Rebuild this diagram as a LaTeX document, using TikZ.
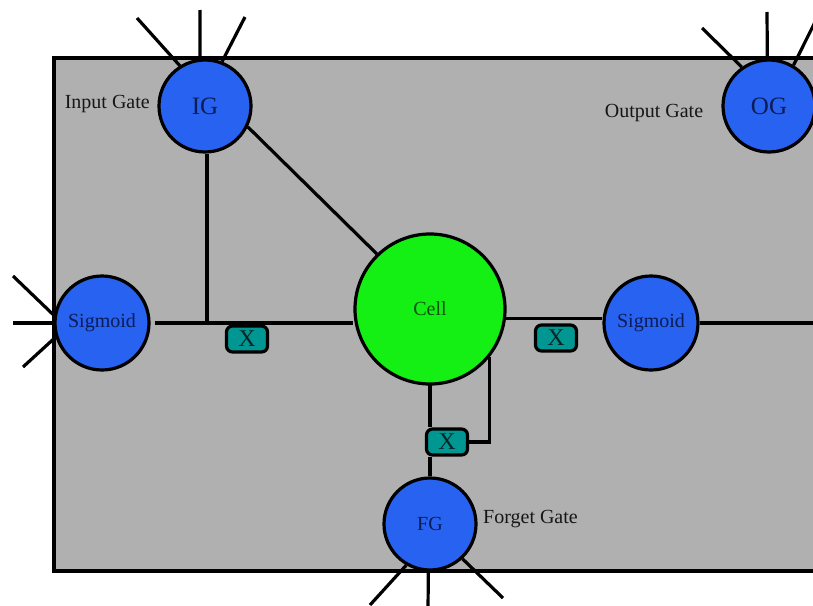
\documentclass[tikz,border=0pt]{standalone}
\usepackage{fontspec}
\setmainfont{Liberation Serif}
\definecolor{gateblue}{RGB}{40,98,240}
\definecolor{cellgreen}{RGB}{20,240,20}
\definecolor{multteal}{RGB}{0,150,145}
\definecolor{boxgray}{RGB}{176,176,176}
\definecolor{gatetext}{RGB}{12,28,85}
\definecolor{celltext}{RGB}{15,80,15}
\definecolor{multtext}{RGB}{8,38,38}
\definecolor{labeltext}{RGB}{22,22,22}
\begin{document}
\begin{tikzpicture}[x=1pt,y=-1pt,
  wire/.style={line width=3.2pt},
  gate/.style={circle,draw=black,line width=3.2pt,fill=gateblue,minimum size=92pt,inner sep=0pt,text=gatetext,font=\fontsize{25}{25}\selectfont},
  sigm/.style={gate,minimum size=94pt,font=\fontsize{20}{20}\selectfont},
  cellnode/.style={circle,draw=black,line width=3.2pt,fill=cellgreen,minimum size=150pt,inner sep=0pt,text=celltext,font=\fontsize{20}{20}\selectfont},
  mult/.style={draw=black,line width=3.2pt,rounded corners=6pt,fill=multteal,minimum width=41pt,minimum height=26pt,inner sep=0pt,text=multtext,font=\fontsize{24}{24}\selectfont},
  lbl/.style={text=labeltext,inner sep=0pt,font=\fontsize{20}{20}\selectfont}]
\useasboundingbox (0,0) rectangle (813,605);
\clip (0,0) rectangle (813,605);
\fill[white] (0,0) rectangle (813,605);
\draw[line width=3.2pt,fill=boxgray] (54,58) rectangle (840,571);
% nodes
\node[gate] (IG) at (205,106) {IG};
\node[gate] (OG) at (769,106) {OG};
\node[sigm] (LS) at (102,323) {Sigmoid};
\node[sigm] (RS) at (651,323) {Sigmoid};
\node[cellnode] (Cell) at (430,309) {Cell};
\node[gate,font=\fontsize{20}{20}\selectfont] (FG) at (430,524) {FG};
\node[mult] (M1) at (247,339) {X};
\node[mult] (M2) at (556,338) {X};
\node[mult] (M3) at (447,442) {X};
\node[lbl,anchor=east] (lIG) at (150,104) {Input Gate};
\node[lbl] (lOG) at (654,113) {Output Gate};
\node[lbl,anchor=west] (lFG) at (483,519) {Forget Gate};
% free ends
\coordinate (ig1) at (137,18);
\coordinate (ig2) at (200,10);
\coordinate (ig3) at (245,17);
\coordinate (og1) at (702,28);
\coordinate (og2) at (767,12);
\coordinate (og3) at (820,12);
\coordinate (ls1) at (13,276);
\coordinate (ls2) at (13,323);
\coordinate (ls3) at (23,367);
\coordinate (fg1) at (370,605);
\coordinate (fg2) at (428,610);
\coordinate (fg3) at (503,598);
\coordinate (redge) at (840,323);
% connectors
\draw[wire] (ig1) -- (IG.122);
\draw[wire] (ig2) -- (IG.96);
\draw[wire] (ig3) -- (IG.69);
\draw[wire] (og1) -- (OG.125);
\draw[wire] (og2) -- (OG.92);
\draw[wire] (og3) -- (OG.59);
\draw[wire] (ls1) -- (LS.171);
\draw[wire] (ls2) -- (LS.west);
\draw[wire] (ls3) -- (LS.197);
\draw[wire] (fg1) -- (FG.-120);
\draw[wire] (fg2) -- (FG.-92);
\draw[wire] (fg3) -- (FG.-47);
\draw[wire] (IG.-26) -- (Cell.134);
\draw[wire] ([xshift=4pt]LS.east) -- (LS.east -| Cell.west);
\draw[wire] ([xshift=2pt]IG.south) -- ([xshift=2pt]IG.south |- LS.east);
\draw[wire] (Cell.-7) -- (Cell.-7 -| RS.west);
\draw[wire] (RS.east) -- (redge);
\draw[wire] ([yshift=3pt]Cell.south) -- (Cell.south |- M3.north);
\draw[wire] (FG.north |- M3.south) -- (FG.north);
\draw[wire] (M3.east) -| (Cell.-39);
\end{tikzpicture}
\end{document}
